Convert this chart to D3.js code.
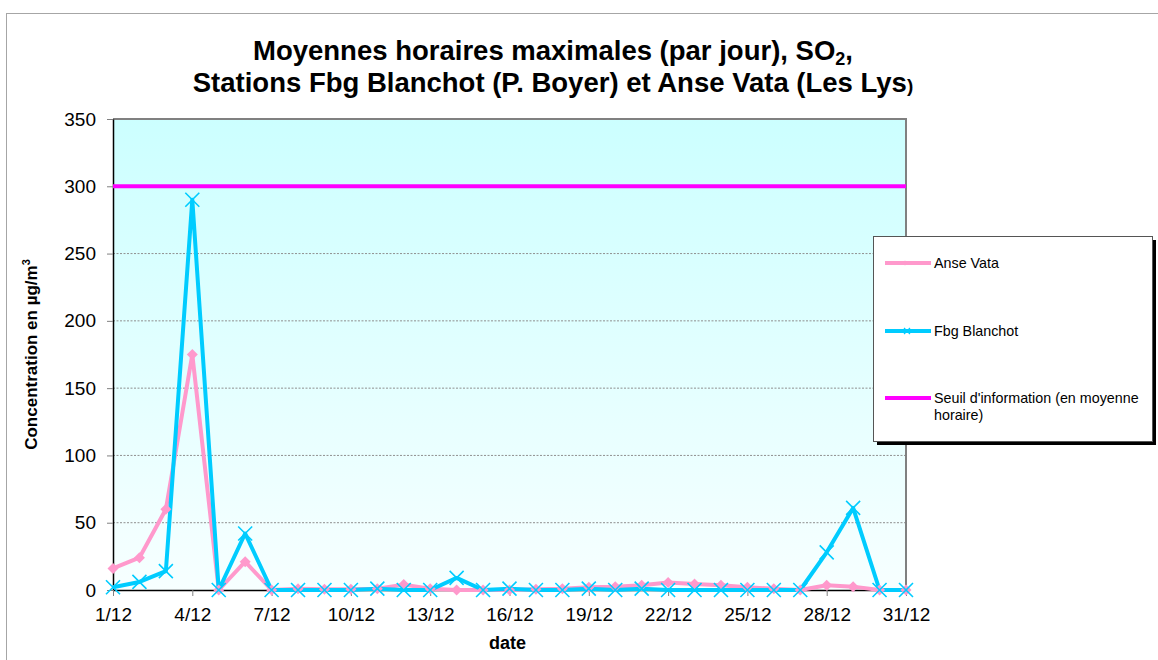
<!DOCTYPE html>
<html>
<head>
<meta charset="utf-8">
<script src="https://cdnjs.cloudflare.com/ajax/libs/d3/7.8.5/d3.min.js"></script>
<style>
  body { margin: 0; background: #fff; }
  svg { font-family: Arial, "Liberation Sans", sans-serif; }
</style>
</head>
<body>
<svg id="chart" width="1158" height="660"></svg>
<script>
(function() {
  // jours de décembre
  var days = [1, 2, 3, 4, 5, 6, 7, 8, 9, 10, 11, 12, 13, 14, 15, 16,
              17, 18, 19, 20, 21, 22, 23, 24, 25, 26, 27, 28, 29, 30, 31];
  var dayTicks = [1, 4, 7, 10, 13, 16, 19, 22, 25, 28, 31];
  var yTicks = [0, 50, 100, 150, 200, 250, 300, 350];

  var anseVata = [16, 24, 60, 175, 0, 21, 0, 1, 0.5, 0.5, 1, 4, 1, 0, 0, 0,
                  0.5, 1, 2, 2.5, 3.5, 5.5, 4.5, 3.5, 2, 1, 0, 3.5, 2.5, 0, 0];
  var fbgBlanchot = [2, 6, 14, 290, 0, 42, 0, 0, 0, 0, 1, 0, 0, 9, 0, 1,
                     0, 0, 1, 0, 1, 0, 0, 0, 0, 0, 0, 28, 61, 0, 0];
  var seuil = 300;

  var legendNames = ["Anse Vata", "Fbg Blanchot", "Seuil d'information (en moyenne|horaire)"];
  var legendColors = ["#FF99CC", "#00CCFF", "#FF00FF"];

  var svg = d3.select("#chart");
  var pLeft = 113, pRight = 906, pTop = 119, pBottom = 590;

  var x = d3.scaleLinear().domain([1, 31]).range([pLeft, pRight]);
  var y = d3.scaleLinear().domain([0, 350]).range([pBottom, pTop]);

  // cadre du graphique
  svg.append("rect")
      .attr("x", 6.5).attr("y", 13.5)
      .attr("width", 1170).attr("height", 670)
      .attr("fill", "#fff").attr("stroke", "#a6a6a6");

  var grad = svg.append("defs").append("linearGradient")
      .attr("id", "bg").attr("x1", 0).attr("y1", 0).attr("x2", 0).attr("y2", 1);
  grad.append("stop").attr("offset", "0%").attr("stop-color", "#CCFFFF");
  grad.append("stop").attr("offset", "100%").attr("stop-color", "#F7FFFF");

  svg.append("rect")
      .attr("x", pLeft).attr("y", pTop)
      .attr("width", pRight - pLeft).attr("height", pBottom - pTop)
      .attr("fill", "url(#bg)");

  // grille
  svg.append("g")
    .selectAll("line")
    .data(yTicks.filter(d => d > 0 && d < 350))
    .enter().append("line")
      .attr("x1", pLeft).attr("x2", pRight)
      .attr("y1", d => y(d)).attr("y2", d => y(d))
      .attr("stroke", "#8f8f8f")
      .attr("stroke-dasharray", "2,1.5");

  // bordure haut / droite
  svg.append("path")
      .attr("d", `M${pLeft},${pTop}H${pRight}V${pBottom}`)
      .attr("fill", "none").attr("stroke", "#808080").attr("stroke-width", 2);

  // axes
  var yAxis = svg.append("g")
      .attr("transform", `translate(${pLeft},0)`)
      .call(d3.axisLeft(y).tickValues(yTicks).tickSize(6).tickPadding(11).tickSizeOuter(0));
  var xAxis = svg.append("g")
      .attr("transform", `translate(0,${pBottom})`)
      .call(d3.axisBottom(x).tickValues(dayTicks).tickFormat(d => d + "/12")
              .tickSize(6).tickPadding(12).tickSizeOuter(0));

  [yAxis, xAxis].forEach(function(a) {
    a.select(".domain").attr("stroke", "#000").attr("stroke-width", 1.5);
    a.selectAll(".tick line").attr("stroke", "#808080");
    a.selectAll(".tick text").attr("fill", "#000")
        .style("font-size", "19px").style("font-family", "Arial, 'Liberation Sans', sans-serif");
  });

  // séries
  var line = d3.line().x((d, i) => x(days[i])).y(d => y(d));

  svg.append("line")
      .attr("x1", x(days[0])).attr("x2", x(days[days.length - 1]))
      .attr("y1", y(seuil)).attr("y2", y(seuil))
      .attr("stroke", "#FF00FF").attr("stroke-width", 4);

  svg.append("path").datum(anseVata)
      .attr("d", line).attr("fill", "none")
      .attr("stroke", "#FF99CC").attr("stroke-width", 4).attr("stroke-linejoin", "round");
  svg.append("path").datum(fbgBlanchot)
      .attr("d", line).attr("fill", "none")
      .attr("stroke", "#00CCFF").attr("stroke-width", 4).attr("stroke-linejoin", "round");

  svg.append("g").selectAll("path")
    .data(anseVata)
    .enter().append("path")
      .attr("transform", (d, i) => `translate(${x(days[i])},${y(d)})`)
      .attr("d", "M0,-5.5L5.5,0L0,5.5L-5.5,0Z")
      .attr("fill", "#FF99CC");
  svg.append("g").selectAll("path")
    .data(fbgBlanchot)
    .enter().append("path")
      .attr("transform", (d, i) => `translate(${x(days[i])},${y(d)})`)
      .attr("d", "M-7,-7L7,7M-7,7L7,-7")
      .attr("stroke", "#00CCFF").attr("stroke-width", 1.6);

  // titres
  var title = svg.append("text")
      .attr("x", 553).attr("y", 60)
      .attr("text-anchor", "middle")
      .style("font-size", "27.5px").style("font-weight", "bold");
  title.append("tspan").text("Moyennes horaires maximales (par jour), SO");
  title.append("tspan").attr("dy", 5).style("font-size", "18px").text("2");
  title.append("tspan").attr("dy", -5).text(",");

  var title2 = svg.append("text")
      .attr("x", 553).attr("y", 92)
      .attr("text-anchor", "middle")
      .style("font-size", "27.5px").style("font-weight", "bold");
  title2.append("tspan").text("Stations Fbg Blanchot (P. Boyer) et Anse Vata (Les Lys");
  title2.append("tspan").style("font-size", "19px").text(")");

  svg.append("text")
      .attr("x", (pLeft + pRight) / 2 - 2).attr("y", 649)
      .attr("text-anchor", "middle")
      .style("font-size", "18px").style("font-weight", "bold")
      .text("date");

  var ylab = svg.append("text")
      .attr("transform", `translate(37,${(pTop + pBottom) / 2}) rotate(-90)`)
      .attr("text-anchor", "middle")
      .style("font-size", "17px").style("font-weight", "bold");
  ylab.append("tspan").text("Concentration en µg/m");
  ylab.append("tspan").attr("dy", -7).style("font-size", "11px").text("3");

  // légende
  var lg = svg.append("g");
  lg.append("rect").attr("x", 877).attr("y", 240).attr("width", 279).attr("height", 205).attr("fill", "#000");
  lg.append("rect").attr("x", 873.5).attr("y", 236.5).attr("width", 279).attr("height", 205)
      .attr("fill", "#fff").attr("stroke", "#555");

  var ly = [263, 331, 398];
  legendNames.forEach(function(name, i) {
    lg.append("line")
        .attr("x1", 885).attr("x2", 931)
        .attr("y1", ly[i]).attr("y2", ly[i])
        .attr("stroke", legendColors[i]).attr("stroke-width", 4);
    var t = lg.append("text")
        .attr("x", 934).attr("y", ly[i] + 5)
        .style("font-size", "14.3px").attr("fill", "#000");
    name.split("|").forEach(function(part, j) {
      t.append("tspan").attr("x", 934).attr("dy", j ? 17 : 0).text(part);
    });
  });
  lg.append("path").attr("d", `M905,${ly[0] - 2.5}L907.5,${ly[0]}L905,${ly[0] + 2.5}L902.5,${ly[0]}Z`)
      .attr("fill", "#FF99CC");
  lg.append("path").attr("d", `M904,${ly[1] - 3}L910,${ly[1] + 3}M904,${ly[1] + 3}L910,${ly[1] - 3}`)
      .attr("stroke", "#00CCFF").attr("stroke-width", 1.2);
})();
</script>
</body>
</html>
